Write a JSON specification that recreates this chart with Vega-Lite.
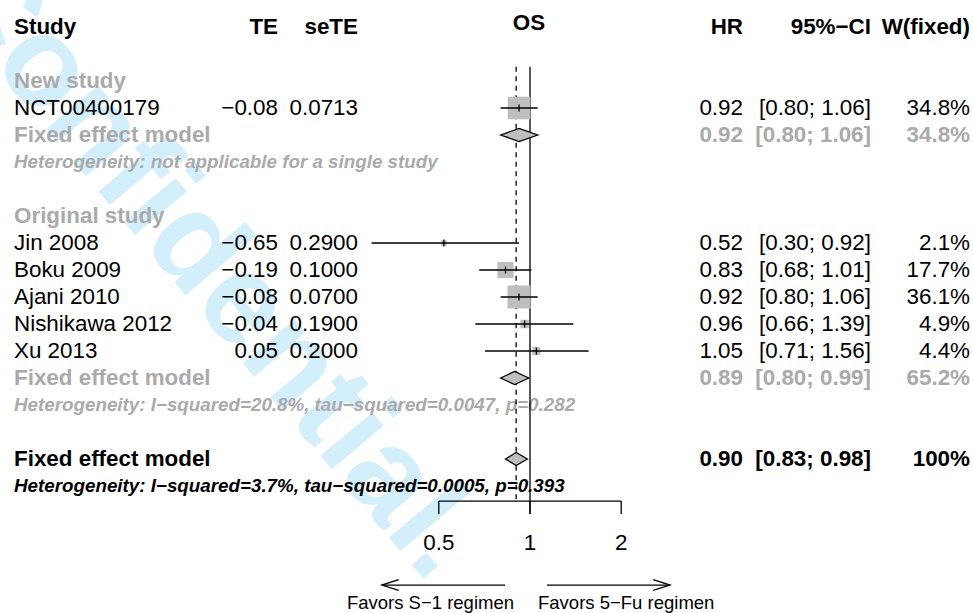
{
  "$schema": "https://vega.github.io/schema/vega-lite/v6.json",
  "width": 973,
  "height": 613,
  "autosize": {"type": "none"},
  "padding": 0,
  "background": "white",
  "config": {"view": {"stroke": null}, "font": "Liberation Sans"},
  "datasets": {
    "cells": [
      {"row": 1, "kind": "header", "col": "Study", "label": "Study"},
      {"row": 1, "kind": "header", "col": "TE", "label": "TE"},
      {"row": 1, "kind": "header", "col": "seTE", "label": "seTE"},
      {"row": 1, "kind": "header", "col": "OS", "label": "OS"},
      {"row": 1, "kind": "header", "col": "HR", "label": "HR"},
      {"row": 1, "kind": "header", "col": "CI", "label": "95%−CI"},
      {"row": 1, "kind": "header", "col": "W", "label": "W(fixed)"},
      {"row": 3, "kind": "group", "col": "Study", "label": "New study"},
      {"row": 4, "kind": "study", "col": "Study", "label": "NCT00400179"},
      {"row": 4, "kind": "study", "col": "TE", "label": "−0.08"},
      {"row": 4, "kind": "study", "col": "seTE", "label": "0.0713"},
      {"row": 4, "kind": "study", "col": "HR", "label": "0.92"},
      {"row": 4, "kind": "study", "col": "CI", "label": "[0.80; 1.06]"},
      {"row": 4, "kind": "study", "col": "W", "label": "34.8%"},
      {"row": 5, "kind": "sub", "col": "Study", "label": "Fixed effect model"},
      {"row": 5, "kind": "sub", "col": "HR", "label": "0.92"},
      {"row": 5, "kind": "sub", "col": "CI", "label": "[0.80; 1.06]"},
      {"row": 5, "kind": "sub", "col": "W", "label": "34.8%"},
      {"row": 6, "kind": "het_sub", "col": "Study", "label": "Heterogeneity: not applicable for a single study"},
      {"row": 8, "kind": "group", "col": "Study", "label": "Original study"},
      {"row": 9, "kind": "study", "col": "Study", "label": "Jin 2008"},
      {"row": 9, "kind": "study", "col": "TE", "label": "−0.65"},
      {"row": 9, "kind": "study", "col": "seTE", "label": "0.2900"},
      {"row": 9, "kind": "study", "col": "HR", "label": "0.52"},
      {"row": 9, "kind": "study", "col": "CI", "label": "[0.30; 0.92]"},
      {"row": 9, "kind": "study", "col": "W", "label": "2.1%"},
      {"row": 10, "kind": "study", "col": "Study", "label": "Boku 2009"},
      {"row": 10, "kind": "study", "col": "TE", "label": "−0.19"},
      {"row": 10, "kind": "study", "col": "seTE", "label": "0.1000"},
      {"row": 10, "kind": "study", "col": "HR", "label": "0.83"},
      {"row": 10, "kind": "study", "col": "CI", "label": "[0.68; 1.01]"},
      {"row": 10, "kind": "study", "col": "W", "label": "17.7%"},
      {"row": 11, "kind": "study", "col": "Study", "label": "Ajani 2010"},
      {"row": 11, "kind": "study", "col": "TE", "label": "−0.08"},
      {"row": 11, "kind": "study", "col": "seTE", "label": "0.0700"},
      {"row": 11, "kind": "study", "col": "HR", "label": "0.92"},
      {"row": 11, "kind": "study", "col": "CI", "label": "[0.80; 1.06]"},
      {"row": 11, "kind": "study", "col": "W", "label": "36.1%"},
      {"row": 12, "kind": "study", "col": "Study", "label": "Nishikawa 2012"},
      {"row": 12, "kind": "study", "col": "TE", "label": "−0.04"},
      {"row": 12, "kind": "study", "col": "seTE", "label": "0.1900"},
      {"row": 12, "kind": "study", "col": "HR", "label": "0.96"},
      {"row": 12, "kind": "study", "col": "CI", "label": "[0.66; 1.39]"},
      {"row": 12, "kind": "study", "col": "W", "label": "4.9%"},
      {"row": 13, "kind": "study", "col": "Study", "label": "Xu 2013"},
      {"row": 13, "kind": "study", "col": "TE", "label": "0.05"},
      {"row": 13, "kind": "study", "col": "seTE", "label": "0.2000"},
      {"row": 13, "kind": "study", "col": "HR", "label": "1.05"},
      {"row": 13, "kind": "study", "col": "CI", "label": "[0.71; 1.56]"},
      {"row": 13, "kind": "study", "col": "W", "label": "4.4%"},
      {"row": 14, "kind": "sub", "col": "Study", "label": "Fixed effect model"},
      {"row": 14, "kind": "sub", "col": "HR", "label": "0.89"},
      {"row": 14, "kind": "sub", "col": "CI", "label": "[0.80; 0.99]"},
      {"row": 14, "kind": "sub", "col": "W", "label": "65.2%"},
      {"row": 15, "kind": "het_sub", "col": "Study", "label": "Heterogeneity: I−squared=20.8%, tau−squared=0.0047, p=0.282"},
      {"row": 17, "kind": "total", "col": "Study", "label": "Fixed effect model"},
      {"row": 17, "kind": "total", "col": "HR", "label": "0.90"},
      {"row": 17, "kind": "total", "col": "CI", "label": "[0.83; 0.98]"},
      {"row": 17, "kind": "total", "col": "W", "label": "100%"},
      {"row": 18, "kind": "het_total", "col": "Study", "label": "Heterogeneity: I−squared=3.7%, tau−squared=0.0005, p=0.393"}
    ],
    "studies": [
      {"study": "NCT00400179", "row": 4, "hr": 0.92, "lower": 0.80, "upper": 1.06, "w": 34.8},
      {"study": "Jin 2008", "row": 9, "hr": 0.52, "lower": 0.30, "upper": 0.92, "w": 2.1},
      {"study": "Boku 2009", "row": 10, "hr": 0.83, "lower": 0.68, "upper": 1.01, "w": 17.7},
      {"study": "Ajani 2010", "row": 11, "hr": 0.92, "lower": 0.80, "upper": 1.06, "w": 36.1},
      {"study": "Nishikawa 2012", "row": 12, "hr": 0.96, "lower": 0.66, "upper": 1.39, "w": 4.9},
      {"study": "Xu 2013", "row": 13, "hr": 1.05, "lower": 0.71, "upper": 1.56, "w": 4.4}
    ],
    "pooled": [
      {"model": "New study", "row": 5, "pt": "lower", "hr": 0.80},
      {"model": "New study", "row": 5, "pt": "estimate", "hr": 0.92},
      {"model": "New study", "row": 5, "pt": "upper", "hr": 1.06},
      {"model": "Original study", "row": 14, "pt": "lower", "hr": 0.80},
      {"model": "Original study", "row": 14, "pt": "estimate", "hr": 0.89},
      {"model": "Original study", "row": 14, "pt": "upper", "hr": 0.99},
      {"model": "Overall", "row": 17, "pt": "lower", "hr": 0.83},
      {"model": "Overall", "row": 17, "pt": "estimate", "hr": 0.90},
      {"model": "Overall", "row": 17, "pt": "upper", "hr": 0.98}
    ],
    "ticks": [
      {"tick": 0.5, "label": "0.5"},
      {"tick": 1, "label": "1"},
      {"tick": 2, "label": "2"}
    ],
    "favors": [
      {"side": "left", "label": "Favors S−1 regimen"},
      {"side": "right", "label": "Favors 5−Fu regimen"}
    ],
    "watermark": [{"label": "Confidential."}]
  },
  "resolve": {"scale": {"x": "independent", "color": "independent", "size": "independent"}},
  "layer": [
    {
      "layer": [
        {
          "data": {"name": "watermark"},
          "mark": {"type": "text", "font": "Liberation Sans", "fontWeight": "bold", "fontSize": 128, "angle": 50, "align": "center", "baseline": "middle", "color": "#d3effc"},
          "encoding": {
            "x": {"datum": 209, "type": "quantitative", "scale": {"domain": [0, 973], "nice": false, "zero": false}, "axis": null},
            "y": {"datum": 9.78, "type": "quantitative", "scale": {"domain": [0, 22.7037], "reverse": true, "nice": false, "zero": false}, "axis": null},
            "text": {"field": "label"}
          }
        },
        {
          "data": {"name": "cells"},
          "transform": [{"filter": "datum.col == 'Study'"}],
          "mark": {"type": "text", "align": "left", "baseline": "middle", "font": "Liberation Sans",
            "fontSize": {"expr": "indexof(['het_sub','het_total'], datum.kind) >= 0 ? 18.8 : 22.4"},
            "fontWeight": {"expr": "datum.kind == 'study' ? 'normal' : 'bold'"},
            "fontStyle": {"expr": "indexof(['het_sub','het_total'], datum.kind) >= 0 ? 'italic' : 'normal'"}},
          "encoding": {
            "x": {"datum": 14, "type": "quantitative", "scale": {"domain": [0, 973], "nice": false, "zero": false}, "axis": null},
            "y": {"field": "row", "type": "quantitative", "scale": {"domain": [0, 22.7037], "reverse": true, "nice": false, "zero": false}, "axis": null},
            "text": {"field": "label"},
            "color": {"field": "kind", "type": "nominal", "legend": null, "scale": {"domain": ["header", "group", "study", "sub", "het_sub", "total", "het_total"], "range": ["#000000", "#aaaaaa", "#000000", "#aaaaaa", "#aaaaaa", "#000000", "#000000"]}}
          }
        },
        {
          "data": {"name": "cells"},
          "transform": [{"filter": "datum.col == 'TE'"}],
          "mark": {"type": "text", "align": "right", "baseline": "middle", "font": "Liberation Sans", "fontSize": 22.4,
            "fontWeight": {"expr": "datum.kind == 'study' ? 'normal' : 'bold'"}},
          "encoding": {
            "x": {"datum": 278, "type": "quantitative", "scale": {"domain": [0, 973], "nice": false, "zero": false}, "axis": null},
            "y": {"field": "row", "type": "quantitative", "scale": {"domain": [0, 22.7037], "reverse": true, "nice": false, "zero": false}, "axis": null},
            "text": {"field": "label"},
            "color": {"field": "kind", "type": "nominal", "legend": null, "scale": {"domain": ["header", "group", "study", "sub", "het_sub", "total", "het_total"], "range": ["#000000", "#aaaaaa", "#000000", "#aaaaaa", "#aaaaaa", "#000000", "#000000"]}}
          }
        },
        {
          "data": {"name": "cells"},
          "transform": [{"filter": "datum.col == 'seTE'"}],
          "mark": {"type": "text", "align": "right", "baseline": "middle", "font": "Liberation Sans", "fontSize": 22.4,
            "fontWeight": {"expr": "datum.kind == 'study' ? 'normal' : 'bold'"}},
          "encoding": {
            "x": {"datum": 358, "type": "quantitative", "scale": {"domain": [0, 973], "nice": false, "zero": false}, "axis": null},
            "y": {"field": "row", "type": "quantitative", "scale": {"domain": [0, 22.7037], "reverse": true, "nice": false, "zero": false}, "axis": null},
            "text": {"field": "label"},
            "color": {"field": "kind", "type": "nominal", "legend": null, "scale": {"domain": ["header", "group", "study", "sub", "het_sub", "total", "het_total"], "range": ["#000000", "#aaaaaa", "#000000", "#aaaaaa", "#aaaaaa", "#000000", "#000000"]}}
          }
        },
        {
          "data": {"name": "cells"},
          "transform": [{"filter": "datum.col == 'OS'"}],
          "mark": {"type": "text", "align": "center", "baseline": "middle", "font": "Liberation Sans", "fontSize": 22.4, "fontWeight": "bold", "dy": -4},
          "encoding": {
            "x": {"datum": 529, "type": "quantitative", "scale": {"domain": [0, 973], "nice": false, "zero": false}, "axis": null},
            "y": {"field": "row", "type": "quantitative", "scale": {"domain": [0, 22.7037], "reverse": true, "nice": false, "zero": false}, "axis": null},
            "text": {"field": "label"},
            "color": {"field": "kind", "type": "nominal", "legend": null, "scale": {"domain": ["header", "group", "study", "sub", "het_sub", "total", "het_total"], "range": ["#000000", "#aaaaaa", "#000000", "#aaaaaa", "#aaaaaa", "#000000", "#000000"]}}
          }
        },
        {
          "data": {"name": "cells"},
          "transform": [{"filter": "datum.col == 'HR'"}],
          "mark": {"type": "text", "align": "right", "baseline": "middle", "font": "Liberation Sans", "fontSize": 22.4,
            "fontWeight": {"expr": "datum.kind == 'study' ? 'normal' : 'bold'"}},
          "encoding": {
            "x": {"datum": 743, "type": "quantitative", "scale": {"domain": [0, 973], "nice": false, "zero": false}, "axis": null},
            "y": {"field": "row", "type": "quantitative", "scale": {"domain": [0, 22.7037], "reverse": true, "nice": false, "zero": false}, "axis": null},
            "text": {"field": "label"},
            "color": {"field": "kind", "type": "nominal", "legend": null, "scale": {"domain": ["header", "group", "study", "sub", "het_sub", "total", "het_total"], "range": ["#000000", "#aaaaaa", "#000000", "#aaaaaa", "#aaaaaa", "#000000", "#000000"]}}
          }
        },
        {
          "data": {"name": "cells"},
          "transform": [{"filter": "datum.col == 'CI'"}],
          "mark": {"type": "text", "align": "right", "baseline": "middle", "font": "Liberation Sans", "fontSize": 22.4,
            "fontWeight": {"expr": "datum.kind == 'study' ? 'normal' : 'bold'"}},
          "encoding": {
            "x": {"datum": 871, "type": "quantitative", "scale": {"domain": [0, 973], "nice": false, "zero": false}, "axis": null},
            "y": {"field": "row", "type": "quantitative", "scale": {"domain": [0, 22.7037], "reverse": true, "nice": false, "zero": false}, "axis": null},
            "text": {"field": "label"},
            "color": {"field": "kind", "type": "nominal", "legend": null, "scale": {"domain": ["header", "group", "study", "sub", "het_sub", "total", "het_total"], "range": ["#000000", "#aaaaaa", "#000000", "#aaaaaa", "#aaaaaa", "#000000", "#000000"]}}
          }
        },
        {
          "data": {"name": "cells"},
          "transform": [{"filter": "datum.col == 'W'"}],
          "mark": {"type": "text", "align": "right", "baseline": "middle", "font": "Liberation Sans", "fontSize": 22.4,
            "fontWeight": {"expr": "datum.kind == 'study' ? 'normal' : 'bold'"}},
          "encoding": {
            "x": {"datum": 970, "type": "quantitative", "scale": {"domain": [0, 973], "nice": false, "zero": false}, "axis": null},
            "y": {"field": "row", "type": "quantitative", "scale": {"domain": [0, 22.7037], "reverse": true, "nice": false, "zero": false}, "axis": null},
            "text": {"field": "label"},
            "color": {"field": "kind", "type": "nominal", "legend": null, "scale": {"domain": ["header", "group", "study", "sub", "het_sub", "total", "het_total"], "range": ["#000000", "#aaaaaa", "#000000", "#aaaaaa", "#aaaaaa", "#000000", "#000000"]}}
          }
        }
      ]
    },
    {
      "layer": [
        {
          "data": {"name": "ticks"},
          "transform": [{"filter": "datum.tick == 1"}],
          "mark": {"type": "rule", "color": "#000000", "strokeWidth": 1.3},
          "encoding": {
            "x": {"field": "tick", "type": "quantitative", "scale": {"type": "log", "domain": [0.01781, 28.99], "nice": false}, "axis": null},
            "y": {"datum": 2.47, "type": "quantitative", "scale": {"domain": [0, 22.7037], "reverse": true, "nice": false, "zero": false}, "axis": null},
            "y2": {"datum": 19.04}
          }
        },
        {
          "data": {"name": "pooled"},
          "transform": [{"filter": "datum.model == 'Overall' && datum.pt == 'estimate'"}],
          "mark": {"type": "rule", "color": "#000000", "strokeWidth": 1.3, "strokeDash": [5, 4.5]},
          "encoding": {
            "x": {"field": "hr", "type": "quantitative", "scale": {"type": "log", "domain": [0.01781, 28.99], "nice": false}, "axis": null},
            "y": {"datum": 2.47, "type": "quantitative", "scale": {"domain": [0, 22.7037], "reverse": true, "nice": false, "zero": false}, "axis": null},
            "y2": {"datum": 18.56}
          }
        },
        {
          "data": {"name": "studies"},
          "mark": {"type": "point", "shape": "square", "filled": true, "color": "#bebebe", "opacity": 1, "strokeWidth": 0},
          "encoding": {
            "x": {"field": "hr", "type": "quantitative", "scale": {"type": "log", "domain": [0.01781, 28.99], "nice": false}, "axis": null},
            "y": {"field": "row", "type": "quantitative", "scale": {"domain": [0, 22.7037], "reverse": true, "nice": false, "zero": false}, "axis": null},
            "size": {"field": "w", "type": "quantitative", "legend": null, "scale": {"domain": [0, 100], "range": [0, 1467], "zero": true}}
          }
        },
        {
          "data": {"name": "studies"},
          "mark": {"type": "rule", "color": "#000000", "strokeWidth": 1.3},
          "encoding": {
            "x": {"field": "lower", "type": "quantitative", "scale": {"type": "log", "domain": [0.01781, 28.99], "nice": false}, "axis": null},
            "x2": {"field": "upper"},
            "y": {"field": "row", "type": "quantitative", "scale": {"domain": [0, 22.7037], "reverse": true, "nice": false, "zero": false}, "axis": null}
          }
        },
        {
          "data": {"name": "studies"},
          "mark": {"type": "tick", "orient": "vertical", "color": "#000000", "size": 7, "thickness": 1.3, "opacity": 1},
          "encoding": {
            "x": {"field": "hr", "type": "quantitative", "scale": {"type": "log", "domain": [0.01781, 28.99], "nice": false}, "axis": null},
            "y": {"field": "row", "type": "quantitative", "scale": {"domain": [0, 22.7037], "reverse": true, "nice": false, "zero": false}, "axis": null}
          }
        },
        {
          "data": {"name": "pooled"},
          "mark": {"type": "area", "orient": "vertical", "fill": "#bebebe", "fillOpacity": 1, "stroke": "#000000", "strokeWidth": 1.3,
            "yOffset": {"expr": "datum.pt == 'estimate' ? -6.5 : 0"},
            "y2Offset": {"expr": "datum.pt == 'estimate' ? 6.5 : 0"}},
          "encoding": {
            "x": {"field": "hr", "type": "quantitative", "scale": {"type": "log", "domain": [0.01781, 28.99], "nice": false}, "axis": null},
            "y": {"field": "row", "type": "quantitative", "stack": null, "scale": {"domain": [0, 22.7037], "reverse": true, "nice": false, "zero": false}, "axis": null},
            "y2": {"field": "row"},
            "detail": {"field": "model", "type": "nominal"}
          }
        },
        {
          "data": {"name": "ticks"},
          "mark": {"type": "rule", "color": "#000000", "strokeWidth": 1.3},
          "encoding": {
            "x": {"aggregate": "min", "field": "tick", "type": "quantitative", "scale": {"type": "log", "domain": [0.01781, 28.99], "nice": false}, "axis": null},
            "x2": {"aggregate": "max", "field": "tick"},
            "y": {"datum": 18.56, "type": "quantitative", "scale": {"domain": [0, 22.7037], "reverse": true, "nice": false, "zero": false}, "axis": null}
          }
        },
        {
          "data": {"name": "ticks"},
          "mark": {"type": "rule", "color": "#000000", "strokeWidth": 1.3},
          "encoding": {
            "x": {"field": "tick", "type": "quantitative", "scale": {"type": "log", "domain": [0.01781, 28.99], "nice": false}, "axis": null},
            "y": {"datum": 18.56, "type": "quantitative", "scale": {"domain": [0, 22.7037], "reverse": true, "nice": false, "zero": false}, "axis": null},
            "y2": {"datum": 19.04}
          }
        },
        {
          "data": {"name": "ticks"},
          "mark": {"type": "text", "align": "center", "baseline": "middle", "font": "Liberation Sans", "fontSize": 22.4, "color": "#000000"},
          "encoding": {
            "x": {"field": "tick", "type": "quantitative", "scale": {"type": "log", "domain": [0.01781, 28.99], "nice": false}, "axis": null},
            "y": {"datum": 20.12, "type": "quantitative", "scale": {"domain": [0, 22.7037], "reverse": true, "nice": false, "zero": false}, "axis": null},
            "text": {"field": "label"}
          }
        },
        {
          "data": {"name": "favors"},
          "transform": [{"filter": "datum.side == 'left'"}],
          "mark": {"type": "rule", "color": "#000000", "strokeWidth": 1.3},
          "encoding": {
            "x": {"datum": 0.3245, "type": "quantitative", "scale": {"type": "log", "domain": [0.01781, 28.99], "nice": false}, "axis": null},
            "x2": {"datum": 0.827},
            "y": {"datum": 21.67, "type": "quantitative", "scale": {"domain": [0, 22.7037], "reverse": true, "nice": false, "zero": false}, "axis": null}
          }
        },
        {
          "data": {"name": "favors"},
          "transform": [{"filter": "datum.side == 'right'"}],
          "mark": {"type": "rule", "color": "#000000", "strokeWidth": 1.3},
          "encoding": {
            "x": {"datum": 1.138, "type": "quantitative", "scale": {"type": "log", "domain": [0.01781, 28.99], "nice": false}, "axis": null},
            "x2": {"datum": 2.897},
            "y": {"datum": 21.67, "type": "quantitative", "scale": {"domain": [0, 22.7037], "reverse": true, "nice": false, "zero": false}, "axis": null}
          }
        },
        {
          "data": {"name": "favors"},
          "transform": [{"filter": "datum.side == 'left'"}],
          "mark": {"type": "point", "shape": "M2,-0.64L0,0L2,0.64", "size": 280, "filled": false, "color": "#000000", "strokeWidth": 1.3, "opacity": 1},
          "encoding": {
            "x": {"datum": 0.3245, "type": "quantitative", "scale": {"type": "log", "domain": [0.01781, 28.99], "nice": false}, "axis": null},
            "y": {"datum": 21.67, "type": "quantitative", "scale": {"domain": [0, 22.7037], "reverse": true, "nice": false, "zero": false}, "axis": null}
          }
        },
        {
          "data": {"name": "favors"},
          "transform": [{"filter": "datum.side == 'right'"}],
          "mark": {"type": "point", "shape": "M-2,-0.64L0,0L-2,0.64", "size": 280, "filled": false, "color": "#000000", "strokeWidth": 1.3, "opacity": 1},
          "encoding": {
            "x": {"datum": 2.897, "type": "quantitative", "scale": {"type": "log", "domain": [0.01781, 28.99], "nice": false}, "axis": null},
            "y": {"datum": 21.67, "type": "quantitative", "scale": {"domain": [0, 22.7037], "reverse": true, "nice": false, "zero": false}, "axis": null}
          }
        },
        {
          "data": {"name": "favors"},
          "transform": [{"filter": "datum.side == 'left'"}],
          "mark": {"type": "text", "align": "right", "baseline": "middle", "font": "Liberation Sans", "fontSize": 18.5, "color": "#000000"},
          "encoding": {
            "x": {"datum": 0.8856, "type": "quantitative", "scale": {"type": "log", "domain": [0.01781, 28.99], "nice": false}, "axis": null},
            "y": {"datum": 22.33, "type": "quantitative", "scale": {"domain": [0, 22.7037], "reverse": true, "nice": false, "zero": false}, "axis": null},
            "text": {"field": "label"}
          }
        },
        {
          "data": {"name": "favors"},
          "transform": [{"filter": "datum.side == 'right'"}],
          "mark": {"type": "text", "align": "left", "baseline": "middle", "font": "Liberation Sans", "fontSize": 18.5, "color": "#000000"},
          "encoding": {
            "x": {"datum": 1.063, "type": "quantitative", "scale": {"type": "log", "domain": [0.01781, 28.99], "nice": false}, "axis": null},
            "y": {"datum": 22.33, "type": "quantitative", "scale": {"domain": [0, 22.7037], "reverse": true, "nice": false, "zero": false}, "axis": null},
            "text": {"field": "label"}
          }
        }
      ]
    }
  ]
}
